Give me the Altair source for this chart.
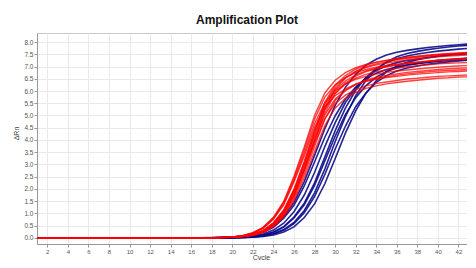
import altair as alt
import pandas as pd

# Cycles shown on the x axis
cycles_all = list(range(1, 46))
first_cycle = 18  # curves are flat at 0.0 before this cycle
x_ticks = list(range(2, 45, 2))
y_ticks = [i * 0.5 for i in range(0, 17)]

# ΔRn values, cycles 18..45
red_curves = [
    [0.01,0.02,0.04,0.09,0.21,0.43,0.84,1.49,2.52,3.71,5.0,5.92,6.44,6.75,6.95,7.09,7.18,7.25,7.31,7.36,7.41,7.45,7.48,7.51,7.53,7.55,7.57,7.59],
    [0.01,0.02,0.04,0.09,0.19,0.4,0.79,1.39,2.35,3.46,4.66,5.52,6.0,6.29,6.48,6.6,6.69,6.76,6.82,6.86,6.9,6.94,6.97,7.0,7.02,7.04,7.06,7.08],
    [0.01,0.02,0.04,0.09,0.2,0.42,0.82,1.45,2.45,3.6,4.85,5.75,6.25,6.55,6.75,6.88,6.97,7.04,7.1,7.15,7.19,7.23,7.26,7.29,7.31,7.33,7.35,7.37],
    [0.01,0.02,0.04,0.08,0.19,0.39,0.76,1.35,2.28,3.35,4.51,5.35,5.81,6.09,6.28,6.4,6.48,6.55,6.6,6.65,6.69,6.72,6.75,6.78,6.8,6.82,6.84,6.85],
    [0.01,0.02,0.03,0.06,0.14,0.3,0.61,1.12,1.96,3.08,4.34,5.46,6.15,6.54,6.79,6.96,7.07,7.14,7.21,7.27,7.31,7.35,7.4,7.43,7.45,7.47,7.49,7.51],
    [0.0,0.01,0.03,0.06,0.14,0.28,0.59,1.08,1.88,2.96,4.17,5.24,5.91,6.28,6.53,6.68,6.79,6.86,6.93,6.99,7.03,7.07,7.11,7.13,7.15,7.17,7.19,7.21],
    [0.0,0.01,0.03,0.06,0.13,0.27,0.56,1.03,1.8,2.84,4.0,5.03,5.67,6.03,6.26,6.41,6.51,6.58,6.65,6.7,6.74,6.78,6.82,6.84,6.86,6.88,6.9,6.92],
    [0.0,0.02,0.03,0.06,0.14,0.29,0.6,1.1,1.92,3.02,4.25,5.35,6.03,6.41,6.66,6.82,6.93,7.0,7.07,7.13,7.17,7.21,7.25,7.28,7.3,7.32,7.34,7.36],
    [0.0,0.01,0.03,0.05,0.13,0.26,0.55,1.0,1.75,2.75,3.87,4.87,5.49,5.83,6.06,6.21,6.31,6.37,6.43,6.49,6.52,6.56,6.6,6.62,6.64,6.66,6.68,6.7],
    [0.01,0.02,0.03,0.06,0.14,0.3,0.62,1.14,1.99,3.13,4.4,5.54,6.24,6.63,6.89,7.06,7.17,7.25,7.32,7.38,7.42,7.46,7.5,7.53,7.56,7.58,7.6,7.62],
    [0.0,0.02,0.03,0.05,0.12,0.25,0.51,0.96,1.69,2.74,3.93,5.1,5.89,6.33,6.61,6.79,6.91,6.99,7.06,7.12,7.16,7.2,7.24,7.27,7.3,7.32,7.34,7.36],
    [0.0,0.01,0.02,0.05,0.11,0.23,0.48,0.91,1.6,2.6,3.73,4.85,5.6,6.01,6.27,6.45,6.56,6.64,6.7,6.76,6.8,6.84,6.88,6.91,6.93,6.95,6.97,6.99],
    [0.0,0.01,0.02,0.05,0.1,0.22,0.46,0.86,1.52,2.46,3.53,4.59,5.3,5.7,5.94,6.11,6.21,6.29,6.35,6.4,6.44,6.48,6.52,6.54,6.57,6.58,6.6,6.62],
    [0.0,0.02,0.03,0.05,0.12,0.25,0.53,0.99,1.74,2.82,4.04,5.25,6.07,6.52,6.8,6.99,7.11,7.19,7.27,7.33,7.37,7.42,7.46,7.49,7.51,7.53,7.55,7.58],
]

blue_curves = [
    [0.01,0.02,0.03,0.06,0.12,0.24,0.47,0.87,1.45,2.3,3.37,4.46,5.41,6.15,6.68,7.06,7.3,7.47,7.58,7.66,7.72,7.78,7.82,7.86,7.89,7.92,7.94,7.96],
    [0.0,0.01,0.03,0.06,0.11,0.23,0.43,0.8,1.33,2.12,3.1,4.11,4.98,5.67,6.16,6.5,6.73,6.88,6.98,7.06,7.12,7.17,7.21,7.25,7.28,7.29,7.31,7.33],
    [0.0,0.01,0.02,0.04,0.08,0.16,0.32,0.6,1.07,1.75,2.67,3.73,4.7,5.53,6.11,6.55,6.84,7.03,7.16,7.25,7.31,7.37,7.42,7.46,7.49,7.52,7.54,7.56],
    [0.0,0.01,0.02,0.03,0.06,0.12,0.24,0.46,0.85,1.42,2.25,3.3,4.37,5.3,6.03,6.55,6.92,7.16,7.32,7.43,7.51,7.57,7.63,7.67,7.71,7.74,7.76,7.78],
    [0.0,0.0,0.01,0.03,0.06,0.11,0.23,0.44,0.81,1.35,2.14,3.14,4.15,5.04,5.73,6.22,6.57,6.8,6.95,7.06,7.13,7.19,7.25,7.29,7.32,7.35,7.37,7.39],
    [0.0,0.0,0.01,0.02,0.04,0.08,0.17,0.34,0.63,1.12,1.84,2.81,3.93,4.95,5.81,6.43,6.89,7.19,7.4,7.53,7.62,7.69,7.75,7.8,7.84,7.87,7.91,7.93],
    [0.0,0.0,0.01,0.02,0.04,0.08,0.16,0.31,0.58,1.03,1.69,2.59,3.62,4.56,5.36,5.92,6.35,6.63,6.82,6.94,7.02,7.09,7.14,7.19,7.23,7.26,7.29,7.3],
    [0.0,0.0,0.0,0.01,0.03,0.06,0.12,0.24,0.45,0.83,1.39,2.21,3.23,4.28,5.19,5.91,6.42,6.78,7.02,7.17,7.28,7.36,7.42,7.48,7.52,7.56,7.59,7.6],
]


def to_frame(curves, group):
    rows = []
    for i, vals in enumerate(curves):
        for c in cycles_all:
            v = 0.0 if c < first_cycle else vals[c - first_cycle]
            rows.append({"curve": f"{group}{i}", "group": group, "Cycle": c, "dRn": v})
    return pd.DataFrame(rows)


red_df = to_frame(red_curves, "r")
blue_df = to_frame(blue_curves, "b")

x_enc = alt.X(
    "Cycle:Q",
    scale=alt.Scale(domain=[1, 42.83], nice=False, zero=False),
    axis=alt.Axis(
        values=x_ticks, title="Cycle", labelFontSize=6, labelColor="#555",
        tickSize=3, tickColor="#999", domainColor="#999", labelPadding=1,
        titleFontSize=7, titleFontWeight="normal", titleColor="#444",
        titleX=224, titleY=13.5, titleBaseline="middle", titleAlign="center",
        gridColor="#e9e9e9", labelFont="Liberation Sans", titleFont="Liberation Sans",
    ),
)
y_enc = alt.Y(
    "dRn:Q",
    scale=alt.Scale(domain=[-0.25, 8.37], nice=False, zero=False),
    axis=alt.Axis(
        values=y_ticks, format=".1f", title="ΔRn", labelFontSize=6.5, labelColor="#555",
        tickSize=3, tickColor="#999", domainColor="#999", labelPadding=1,
        titleFontSize=7, titleFontWeight="normal", titleColor="#444",
        titleX=-21, titleY=100, titleBaseline="middle", titleAlign="center", titleAngle=270,
        gridColor="#e9e9e9", labelFont="Liberation Sans", titleFont="Liberation Sans",
    ),
)

blue_layer = alt.Chart(blue_df).mark_line(
    clip=True, color="#0B0B8A", strokeWidth=1.6, opacity=0.9
).encode(x=x_enc, y=y_enc, detail="curve:N")

red_layer = alt.Chart(red_df).mark_line(
    clip=True, color="#FF0000", strokeWidth=1.4, opacity=0.75
).encode(x=x_enc, y=y_enc, detail="curve:N")

chart = (
    alt.layer(blue_layer, red_layer)
    .properties(
        width=430,
        height=211,
        padding={"left": 29, "top": 25, "right": 0, "bottom": 16},
        autosize=alt.AutoSizeParams(type="none"),
        title=alt.TitleParams(
            "Amplification Plot", fontSize=12, fontWeight="bold",
            font="Liberation Sans", anchor="middle", dx=-5, dy=14, offset=8,
            baseline="bottom", color="#111",
        ),
    )
    .configure_view(stroke="#c8c8c8")
)

chart.save("out.html", embed_options={"renderer": "svg", "actions": False})
